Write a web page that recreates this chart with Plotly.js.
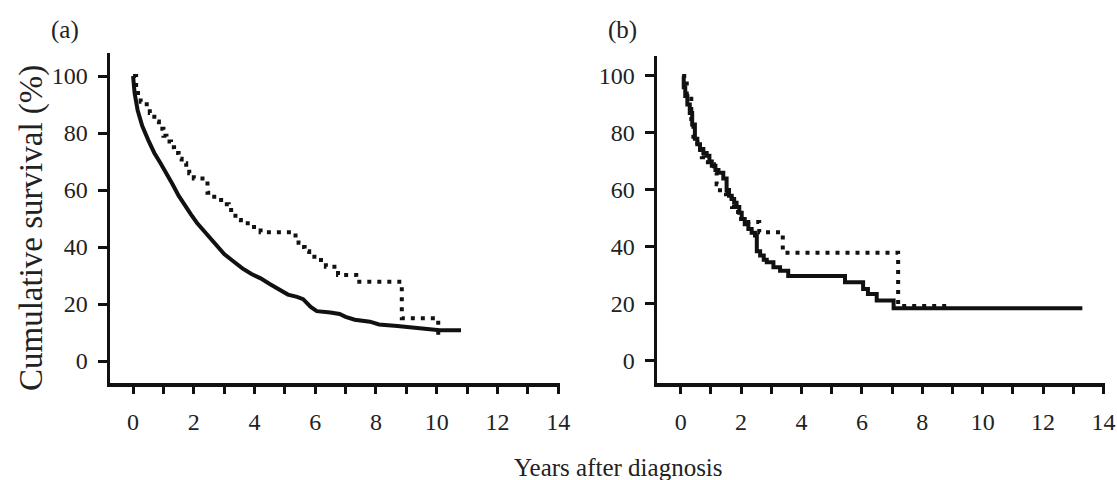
<!DOCTYPE html>
<html>
<head>
<meta charset="utf-8">
<script src="https://cdn.plot.ly/plotly-3.0.1.min.js"></script>
<style>html,body{margin:0;padding:0;background:#fff;}#chart{width:1117px;height:480px;}</style>
</head>
<body>
<div id="chart"></div>
<script>
// ---- Panel (a) ----
const aSolidYears = [0, 0.05, 0.15, 0.3, 0.5, 0.7, 0.9, 1.1, 1.3, 1.5, 1.7, 1.9, 2.1, 2.4, 2.7, 3.0, 3.3, 3.6, 3.9, 4.2, 4.5, 4.8, 5.1, 5.4, 5.6, 5.85, 6.05, 6.5, 6.8, 7.0, 7.3, 7.8, 8.1, 8.7, 9.2, 9.7, 10.1, 10.8];
const aSolidSurv  = [100, 94, 88, 82.5, 77.5, 73, 69.5, 66, 62, 58, 54.5, 51.5, 48.5, 45, 41, 37.5, 35, 32.5, 30.5, 29, 27, 25, 23.3, 22.5, 21.7, 19, 17.5, 17, 16.5, 15.5, 14.5, 13.8, 12.8, 12.3, 11.8, 11.2, 10.8, 10.8];
const aDotYears = [0, 0.1, 0.25, 0.45, 0.55, 0.7, 0.85, 1.0, 1.1, 1.25, 1.35, 1.5, 1.6, 1.75, 1.85, 2.0, 2.45, 2.55, 2.8, 3.0, 3.15, 3.3, 3.45, 3.55, 3.9, 4.2, 5.35, 5.45, 5.55, 5.65, 5.8, 6.1, 6.35, 6.75, 7.35, 8.85, 10.05];
const aDotSurv  = [100, 94, 91, 89, 87, 84, 81.5, 79, 77, 75, 73, 71, 69.4, 67.5, 65.9, 64, 59, 57.6, 56.5, 55, 53, 51, 49.5, 48.3, 47, 45.2, 43, 41.5, 40, 38.5, 36.6, 35.4, 33.1, 30.2, 27.8, 15, 8.5];

// ---- Panel (b) ----
const bSolidYears = [0.06, 0.1, 0.15, 0.22, 0.3, 0.38, 0.47, 0.55, 0.64, 0.75, 0.86, 0.95, 1.03, 1.15, 1.25, 1.41, 1.52, 1.6, 1.69, 1.77, 1.85, 1.94, 2.02, 2.12, 2.24, 2.35, 2.46, 2.52, 2.63, 2.75, 2.85, 3.07, 3.29, 3.56, 5.44, 6.04, 6.2, 6.49, 7.05, 13.3];
const bSolidSurv  = [100, 96, 93, 90, 87, 83, 78, 76, 74.4, 73, 72, 70, 68.5, 67, 66, 64, 60, 58, 56.8, 55.5, 54, 52, 49.8, 48, 46.3, 45, 44, 38.5, 37, 35.5, 34.6, 32.9, 31.7, 29.8, 27.6, 25.3, 23.5, 21.2, 18.5, 18.5];
const bDotYears = [0.05, 0.2, 0.35, 0.42, 0.55, 0.7, 0.9, 1.1, 1.19, 1.3, 1.5, 1.7, 1.9, 2.0, 2.6, 3.38, 7.2, 8.8];
const bDotSurv  = [100, 92, 84, 76.7, 74, 71.5, 69, 66, 62, 59, 57, 54, 51, 48.8, 45.2, 38, 19.3, 19.3];

const yTicks = [0, 20, 40, 60, 80, 100];
const xTicks = [0, 2, 4, 6, 8, 10, 12, 14];
const yTitle = 'Cumulative survival (%)';
const xTitle = 'Years after diagnosis';
const panelLabels = ['(a)', '(b)'];

const W = 1117, H = 480;
const INK = '#111';
const TXT = '#222';
const FONT = 'Liberation Serif, Times New Roman, serif';

function solid(x, y, xa, ya, shape) {
  return {x: x, y: y, xaxis: xa, yaxis: ya, type: 'scatter', mode: 'lines',
    line: {color: INK, width: 4, shape: shape}, hoverinfo: 'skip'};
}
function dotted(x, y, xa, ya) {
  return {x: x, y: y, xaxis: xa, yaxis: ya, type: 'scatter', mode: 'lines',
    line: {color: INK, width: 4, shape: 'hv', dash: '4px,6px'}, hoverinfo: 'skip'};
}

const data = [
  dotted(aDotYears, aDotSurv, 'x', 'y'),
  solid(aSolidYears, aSolidSurv, 'x', 'y', 'linear'),
  dotted(bDotYears, bDotSurv, 'x2', 'y2'),
  solid(bSolidYears, bSolidSurv, 'x2', 'y2', 'hv')
];

function xAxis(domain, range, anchor) {
  return {domain: domain, range: range, anchor: anchor,
    showline: true, linewidth: 3.5, linecolor: INK, mirror: false,
    tickmode: 'array', tickvals: xTicks, ticktext: xTicks.map(String),
    ticks: 'outside', ticklen: 7, tickwidth: 3, tickcolor: INK,
    ticklabelstandoff: 8,
    minor: {dtick: 1, tick0: 0, ticks: 'outside', ticklen: 7, tickwidth: 3, tickcolor: INK, showgrid: false},
    showgrid: false, zeroline: false, fixedrange: true,
    tickfont: {family: FONT, size: 24, color: TXT}};
}
function yAxis(domain, range, anchor) {
  return {domain: domain, range: range, anchor: anchor,
    showline: true, linewidth: 3.5, linecolor: INK,
    tickmode: 'array', tickvals: yTicks, ticktext: yTicks.map(String),
    ticks: 'outside', ticklen: 9, tickwidth: 3, tickcolor: INK,
    ticklabelstandoff: 5,
    showgrid: false, zeroline: false, fixedrange: true,
    tickfont: {family: FONT, size: 24, color: TXT}};
}

const yDom = [1 - 383 / H, 1 - 53 / H];
const yDomB = [1 - 383 / H, 1 - 56 / H];

const layout = {
  width: W, height: H,
  margin: {l: 0, r: 0, t: 0, b: 0},
  paper_bgcolor: '#fff', plot_bgcolor: '#fff',
  showlegend: false,
  font: {family: FONT, color: TXT},
  xaxis: xAxis([110 / W, 560 / W], [-0.76, 14.06], 'y'),
  yaxis: yAxis(yDom, [-7.72, 108.07], 'x'),
  xaxis2: xAxis([657 / W, 1105 / W], [-0.785, 14.05], 'y2'),
  yaxis2: yAxis(yDomB, [-7.72, 107.0], 'x2'),
  annotations: [
    {text: panelLabels[0], xref: 'paper', yref: 'paper', x: 65 / W, y: 1 - 30 / H,
     xanchor: 'center', yanchor: 'middle', showarrow: false, font: {family: FONT, size: 25, color: TXT}},
    {text: panelLabels[1], xref: 'paper', yref: 'paper', x: 622 / W, y: 1 - 30 / H,
     xanchor: 'center', yanchor: 'middle', showarrow: false, font: {family: FONT, size: 25, color: TXT}},
    {text: yTitle, xref: 'paper', yref: 'paper', x: 31 / W, y: 1 - 228 / H, textangle: -90,
     xanchor: 'center', yanchor: 'middle', showarrow: false, font: {family: FONT, size: 33, color: TXT}},
    {text: xTitle, xref: 'paper', yref: 'paper', x: 618 / W, y: 1 - 467 / H,
     xanchor: 'center', yanchor: 'middle', showarrow: false, font: {family: FONT, size: 25, color: TXT}}
  ]
};

Plotly.newPlot('chart', data, layout, {staticPlot: true, displayModeBar: false});
</script>
</body>
</html>
